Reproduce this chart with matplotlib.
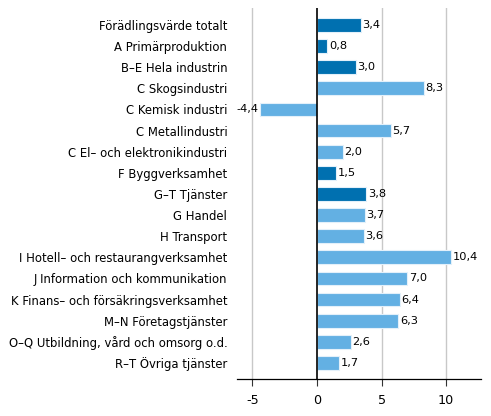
import matplotlib
matplotlib.use("Agg")
import matplotlib.pyplot as plt

plt.rcParams["axes.unicode_minus"] = False

# data
categories = [
    "Förädlingsvärde totalt", "A Primärproduktion", "B–E Hela industrin",
    "C Skogsindustri", "C Kemisk industri", "C Metallindustri",
    "C El– och elektronikindustri", "F Byggverksamhet", "G–T Tjänster",
    "G Handel", "H Transport", "I Hotell– och restaurangverksamhet",
    "J Information och kommunikation", "K Finans– och försäkringsverksamhet",
    "M–N Företagstjänster", "O–Q Utbildning, vård och omsorg o.d.",
    "R–T Övriga tjänster",
]
values = [3.4, 0.8, 3.0, 8.3, -4.4, 5.7, 2.0, 1.5, 3.8, 3.7, 3.6, 10.4,
          7.0, 6.4, 6.3, 2.6, 1.7]
main_groups = ["Förädlingsvärde totalt", "A Primärproduktion", "B–E Hela industrin",
               "F Byggverksamhet", "G–T Tjänster"]
xticks = [-5, 0, 5, 10]

dark = "#0070b0"
light = "#63b0e3"
colors = [dark if c in main_groups else light for c in categories]

fig = plt.figure(figsize=(4.91, 4.16), dpi=100)
ax = fig.add_axes([237 / 491, 1 - 379 / 416, (481 - 237) / 491, (379 - 8) / 416])

ypos = list(range(len(categories)))
ax.barh(ypos, values, height=0.65, color=colors, edgecolor="#e3f0fa",
        linewidth=0.8, zorder=3)

for y, v in zip(ypos, values):
    txt = f"{v:.1f}".replace(".", ",")
    if v >= 0:
        ax.text(v + 0.12, y, txt, va="center", ha="left", fontsize=8.2, zorder=4)
    else:
        ax.text(v - 0.12, y, txt, va="center", ha="right", fontsize=8.2, zorder=4)

ax.set_ylim(len(categories) - 0.24, -0.8)
ax.set_xlim(-6.2, 12.7)
ax.set_yticks(ypos)
ax.set_yticklabels(categories, fontsize=8.4)
ax.tick_params(axis="y", length=0, pad=7)
ax.set_xticks(xticks)
ax.set_xticklabels([str(t) for t in xticks], fontsize=9.2)
ax.tick_params(axis="x", length=5, width=0.8, color="#333333", pad=6)

for t in xticks:
    if t != 0:
        ax.axvline(t, color="#c8c8c8", linewidth=1, zorder=1)
ax.axvline(0, color="black", linewidth=1.2, zorder=5)

for s in ["top", "right", "left"]:
    ax.spines[s].set_visible(False)
ax.spines["bottom"].set_linewidth(0.9)

fig.savefig("out.png", dpi=100)
